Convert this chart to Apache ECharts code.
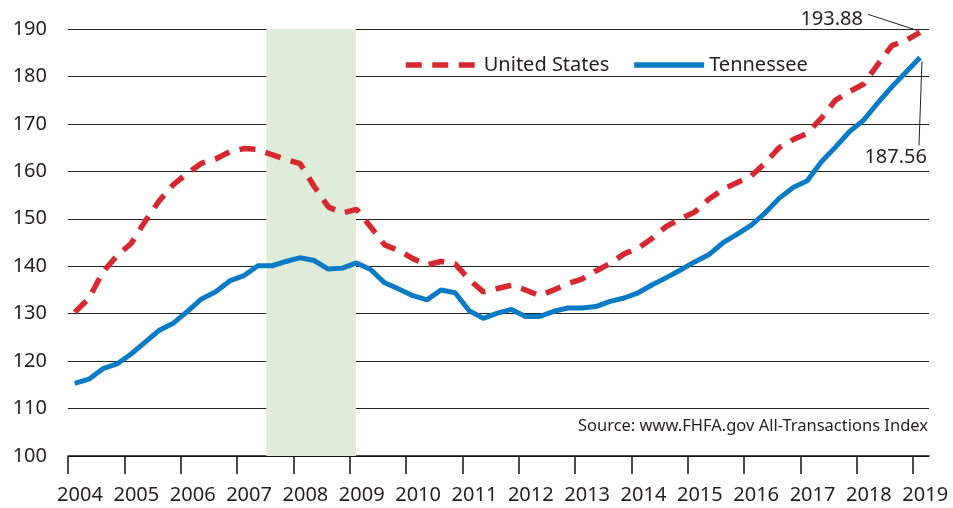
<!DOCTYPE html>
<html>
<head>
<meta charset="utf-8">
<title>House Price Index</title>
<script src="https://cdn.jsdelivr.net/npm/echarts@6/dist/echarts.min.js"></script>
<style>
  html, body { margin: 0; padding: 0; background: #fff; }
  #chart { width: 953px; height: 508px; }
</style>
</head>
<body>
<div id="chart"></div>
<script>
// quarterly index values, 2004 Q1 .. 2019 Q1
const usIndex = [
  130.3, 133.2, 138.8, 142.2, 144.8, 149.5, 153.8, 157.2, 159.6, 161.7,
  162.6, 164.1, 164.8, 164.6, 163.5, 162.5, 161.6, 156.8, 152.5, 151.2,
  152.0, 148.3, 144.5, 143.3, 141.6, 140.3, 141.0, 140.5, 137.2, 134.6,
  135.3, 136.0, 135.0, 133.8, 135.0, 136.3, 137.3, 139.0, 140.6, 142.6,
  143.8, 145.9, 148.4, 150.0, 151.4, 154.1, 156.2, 157.6, 159.0, 161.7,
  165.0, 166.7, 168.0, 171.2, 175.0, 176.8, 178.4, 182.5, 186.5, 187.6, 189.3
]
const tnIndex = [
  115.3, 116.2, 118.4, 119.4, 121.5, 124.0, 126.5, 128.0, 130.5, 133.1,
  134.6, 136.9, 138.0, 140.1, 140.1, 141.0, 141.8, 141.2, 139.4, 139.6,
  140.7, 139.3, 136.5, 135.2, 133.8, 132.9, 135.0, 134.4, 130.6, 129.0,
  130.1, 130.9, 129.4, 129.4, 130.5, 131.2, 131.2, 131.5, 132.6, 133.3,
  134.4, 136.1, 137.6, 139.2, 140.9, 142.4, 144.9, 146.7, 148.6, 151.2,
  154.3, 156.6, 158.0, 162.0, 165.1, 168.4, 170.8, 174.4, 177.8, 180.9, 184.0
]
const years = [2004, 2005, 2006, 2007, 2008, 2009, 2010, 2011, 2012, 2013, 2014, 2015, 2016, 2017, 2018, 2019]
const recession = [2007.52, 2009.11]
const endLabels = ['193.88', '187.56']
const sourceNote = 'Source: www.FHFA.gov All-Transactions Index'

const FONT = '"Noto Sans", "Open Sans", sans-serif'
const firstQuarter = 2004.12
const toPairs = (vals) => vals.map((v, i) => [firstQuarter + i * 0.25, v])
const usData = toPairs(usIndex)
const tnData = toPairs(tnIndex)

const chart = echarts.init(document.getElementById('chart'), null, { renderer: 'canvas' })

const option = {
  backgroundColor: '#fff',
  animation: false,
  textStyle: { fontFamily: FONT },
  grid: { left: 68, right: 24, top: 29, bottom: 52 },
  legend: {
    left: 398,
    top: 50,
    itemWidth: 70,
    itemHeight: 14,
    itemGap: 22,
    // hide the symbol dot the line legend icon adds
    itemStyle: { opacity: 0 },
    lineStyle: { width: 5.5 },
    data: [
      { name: 'United States', textStyle: { padding: [0, 0, 0, 3] } },
      { name: 'Tennessee' },
    ],
    textStyle: { fontSize: 20, color: '#231f20', fontFamily: FONT },
  },
  xAxis: {
    type: 'value',
    min: 2004,
    max: 2019.28,
    interval: 1,
    axisLine: { lineStyle: { color: '#111', width: 1.5 } },
    axisTick: { show: true, length: 18, lineStyle: { color: '#111', width: 1.5 }, customValues: years },
    axisLabel: {
      customValues: years,
      fontSize: 20,
      color: '#231f20',
      margin: 29,
      padding: [0, 0, 0, 24],
      formatter: (v) => String(Math.round(v)),
    },
    splitLine: { show: false },
  },
  yAxis: {
    type: 'value',
    min: 100,
    max: 190,
    interval: 10,
    axisLine: { show: false },
    axisTick: { show: false },
    axisLabel: { fontSize: 20, color: '#231f20', margin: 21 },
    splitLine: { lineStyle: { color: '#222', width: 1.2 } },
  },
  series: [
    {
      // recession shading, kept under the grid lines
      name: 'recession',
      type: 'line',
      z: -1,
      data: [],
      markArea: {
        silent: true,
        itemStyle: { color: '#e0ecda' },
        data: [[{ xAxis: recession[0] }, { xAxis: recession[1] }]],
      },
    },
    {
      name: 'United States',
      type: 'line',
      data: usData,
      showSymbol: false,
      symbol: 'none',
      color: '#d7282f',
      lineStyle: { color: '#d7282f', width: 5.5, type: [16, 10.5] },
      z: 3,
    },
    {
      name: 'Tennessee',
      type: 'line',
      data: tnData,
      showSymbol: false,
      symbol: 'none',
      color: '#0a7bc4',
      lineStyle: { color: '#0a7bc4', width: 5 },
      z: 4,
    },
  ],
}
chart.setOption(option)

// end-value call-outs, anchored to the last points
const usEnd = chart.convertToPixel({ gridIndex: 0 }, usData[usData.length - 1])
const tnEnd = chart.convertToPixel({ gridIndex: 0 }, tnData[tnData.length - 1])
const labelFont = '20px ' + FONT
chart.setOption({
  graphic: [
    { type: 'line', silent: true, z: 10,
      shape: { x1: usEnd[0] - 3, y1: usEnd[1] - 2, x2: usEnd[0] - 52, y2: usEnd[1] - 18 },
      style: { stroke: '#231f20', lineWidth: 1 } },
    { type: 'text', silent: true, z: 10, x: usEnd[0] - 57, y: usEnd[1] - 13,
      style: { text: endLabels[0], font: labelFont, fill: '#231f20', align: 'right', verticalAlign: 'middle' } },
    { type: 'line', silent: true, z: 10,
      shape: { x1: tnEnd[0] + 2, y1: tnEnd[1] + 4, x2: tnEnd[0] - 1, y2: tnEnd[1] + 88 },
      style: { stroke: '#231f20', lineWidth: 1 } },
    { type: 'text', silent: true, z: 10, x: tnEnd[0] + 7, y: tnEnd[1] + 100,
      style: { text: endLabels[1], font: labelFont, fill: '#231f20', align: 'right', verticalAlign: 'middle' } },
    { type: 'text', silent: true, z: 10, x: 928, y: 426,
      style: { text: sourceNote, font: '16.5px ' + FONT, fill: '#231f20', align: 'right', verticalAlign: 'middle' } },
  ],
})

window.addEventListener('resize', () => chart.resize())
</script>
</body>
</html>
